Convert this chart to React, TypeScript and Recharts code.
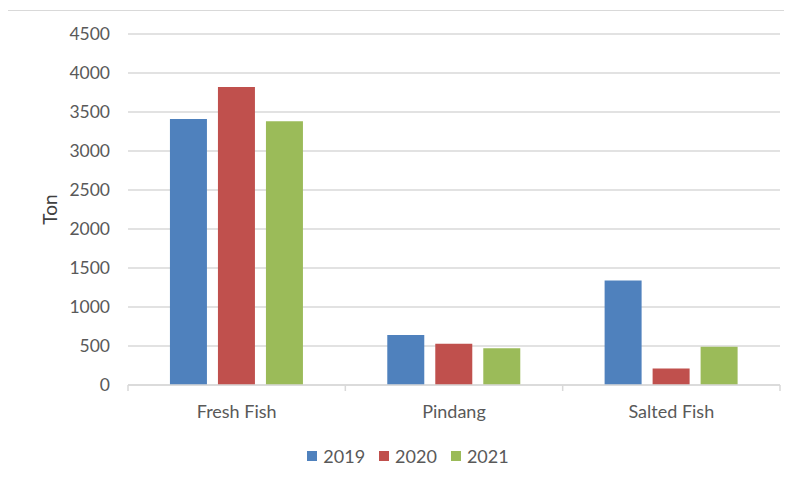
import React from 'react'
import { BarChart, Bar, XAxis, YAxis, CartesianGrid, Legend } from 'recharts'

const categories = ['Fresh Fish', 'Pindang', 'Salted Fish']
const years = ['2019', '2020', '2021']
const values2019 = [3410, 640, 1340]
const values2020 = [3820, 530, 210]
const values2021 = [3380, 470, 490]
const yTicks = [0, 500, 1000, 1500, 2000, 2500, 3000, 3500, 4000, 4500]

const COLORS = ['#4F81BD', '#C0504D', '#9BBB59']
const FONT = 'Lato, "Open Sans", sans-serif'
const TEXT = '#595959'

const W = 792
const H = 482
const PLOT_LEFT = 128
const PLOT_RIGHT = 12
const BAND = (W - PLOT_LEFT - PLOT_RIGHT) / categories.length

const data = categories.map((name, i) => ({
  name,
  y2019: values2019[i],
  y2020: values2020[i],
  y2021: values2021[i],
}))

const CategoryTick = (props: any) => {
  const { x, y, payload, index } = props
  const axisY = y - 17
  const half = BAND / 2
  return (
    <g>
      {index === 0 && (
        <line x1={x - half} x2={x - half} y1={axisY} y2={axisY + 6} stroke="#d9d9d9" strokeWidth={1.5} />
      )}
      <line x1={x + half} x2={x + half} y1={axisY} y2={axisY + 6} stroke="#d9d9d9" strokeWidth={1.5} />
      <text x={x} y={y + 9} textAnchor="middle" dominantBaseline="central" fill={TEXT} fontSize={18} fontFamily={FONT}>
        {payload.value}
      </text>
    </g>
  )
}

const LegendContent = (props: any) => {
  const { payload } = props
  return (
    <div style={{ display: 'flex', justifyContent: 'center', fontFamily: FONT, fontSize: 18, color: TEXT, paddingLeft: 50 }}>
      {payload.map((entry: any) => (
        <div key={entry.value} style={{ display: 'flex', alignItems: 'center', marginRight: 14 }}>
          <span style={{ width: 10, height: 10, background: entry.color, marginRight: 6, display: 'inline-block' }} />
          <span>{entry.value}</span>
        </div>
      ))}
    </div>
  )
}

export default function App() {
  return (
    <div style={{ position: 'relative', margin: -8, width: W, height: H, background: '#fff', overflow: 'hidden' }}>
      <div
        style={{
          position: 'absolute',
          left: 7,
          top: 10,
          width: W,
          height: H,
          border: '1px solid #d9d9d9',
          boxSizing: 'border-box',
        }}
      />
      <div style={{ position: 'absolute', left: 0, top: 0 }}>
        <BarChart
          width={W}
          height={H}
          data={data}
          margin={{ top: 34, right: PLOT_RIGHT, left: 0, bottom: 0 }}
          barCategoryGap="19.3%"
          barGap={11}
        >
          <CartesianGrid vertical={false} stroke="#d9d9d9" strokeWidth={1.5} />
          <XAxis
            dataKey="name"
            axisLine={{ stroke: '#d9d9d9', strokeWidth: 1.5 }}
            tickLine={false}
            tickSize={0}
            tickMargin={17}
            height={60}
            tick={<CategoryTick />}
            interval={0}
          />
          <YAxis
            width={PLOT_LEFT}
            domain={[0, 4500]}
            ticks={yTicks}
            axisLine={false}
            tickLine={false}
            tickSize={0}
            tickMargin={18}
            tick={{ fill: TEXT, fontSize: 17.5, fontFamily: FONT }}
            label={{
              value: 'Ton',
              angle: -90,
              position: 'insideLeft',
              offset: 50,
              style: { fill: '#404040', fontSize: 19, fontFamily: FONT, textAnchor: 'middle' },
            }}
          />
          <Legend verticalAlign="bottom" height={37} content={<LegendContent />} />
          <Bar dataKey="y2019" name={years[0]} fill={COLORS[0]} isAnimationActive={false} />
          <Bar dataKey="y2020" name={years[1]} fill={COLORS[1]} isAnimationActive={false} />
          <Bar dataKey="y2021" name={years[2]} fill={COLORS[2]} isAnimationActive={false} />
        </BarChart>
      </div>
    </div>
  )
}
